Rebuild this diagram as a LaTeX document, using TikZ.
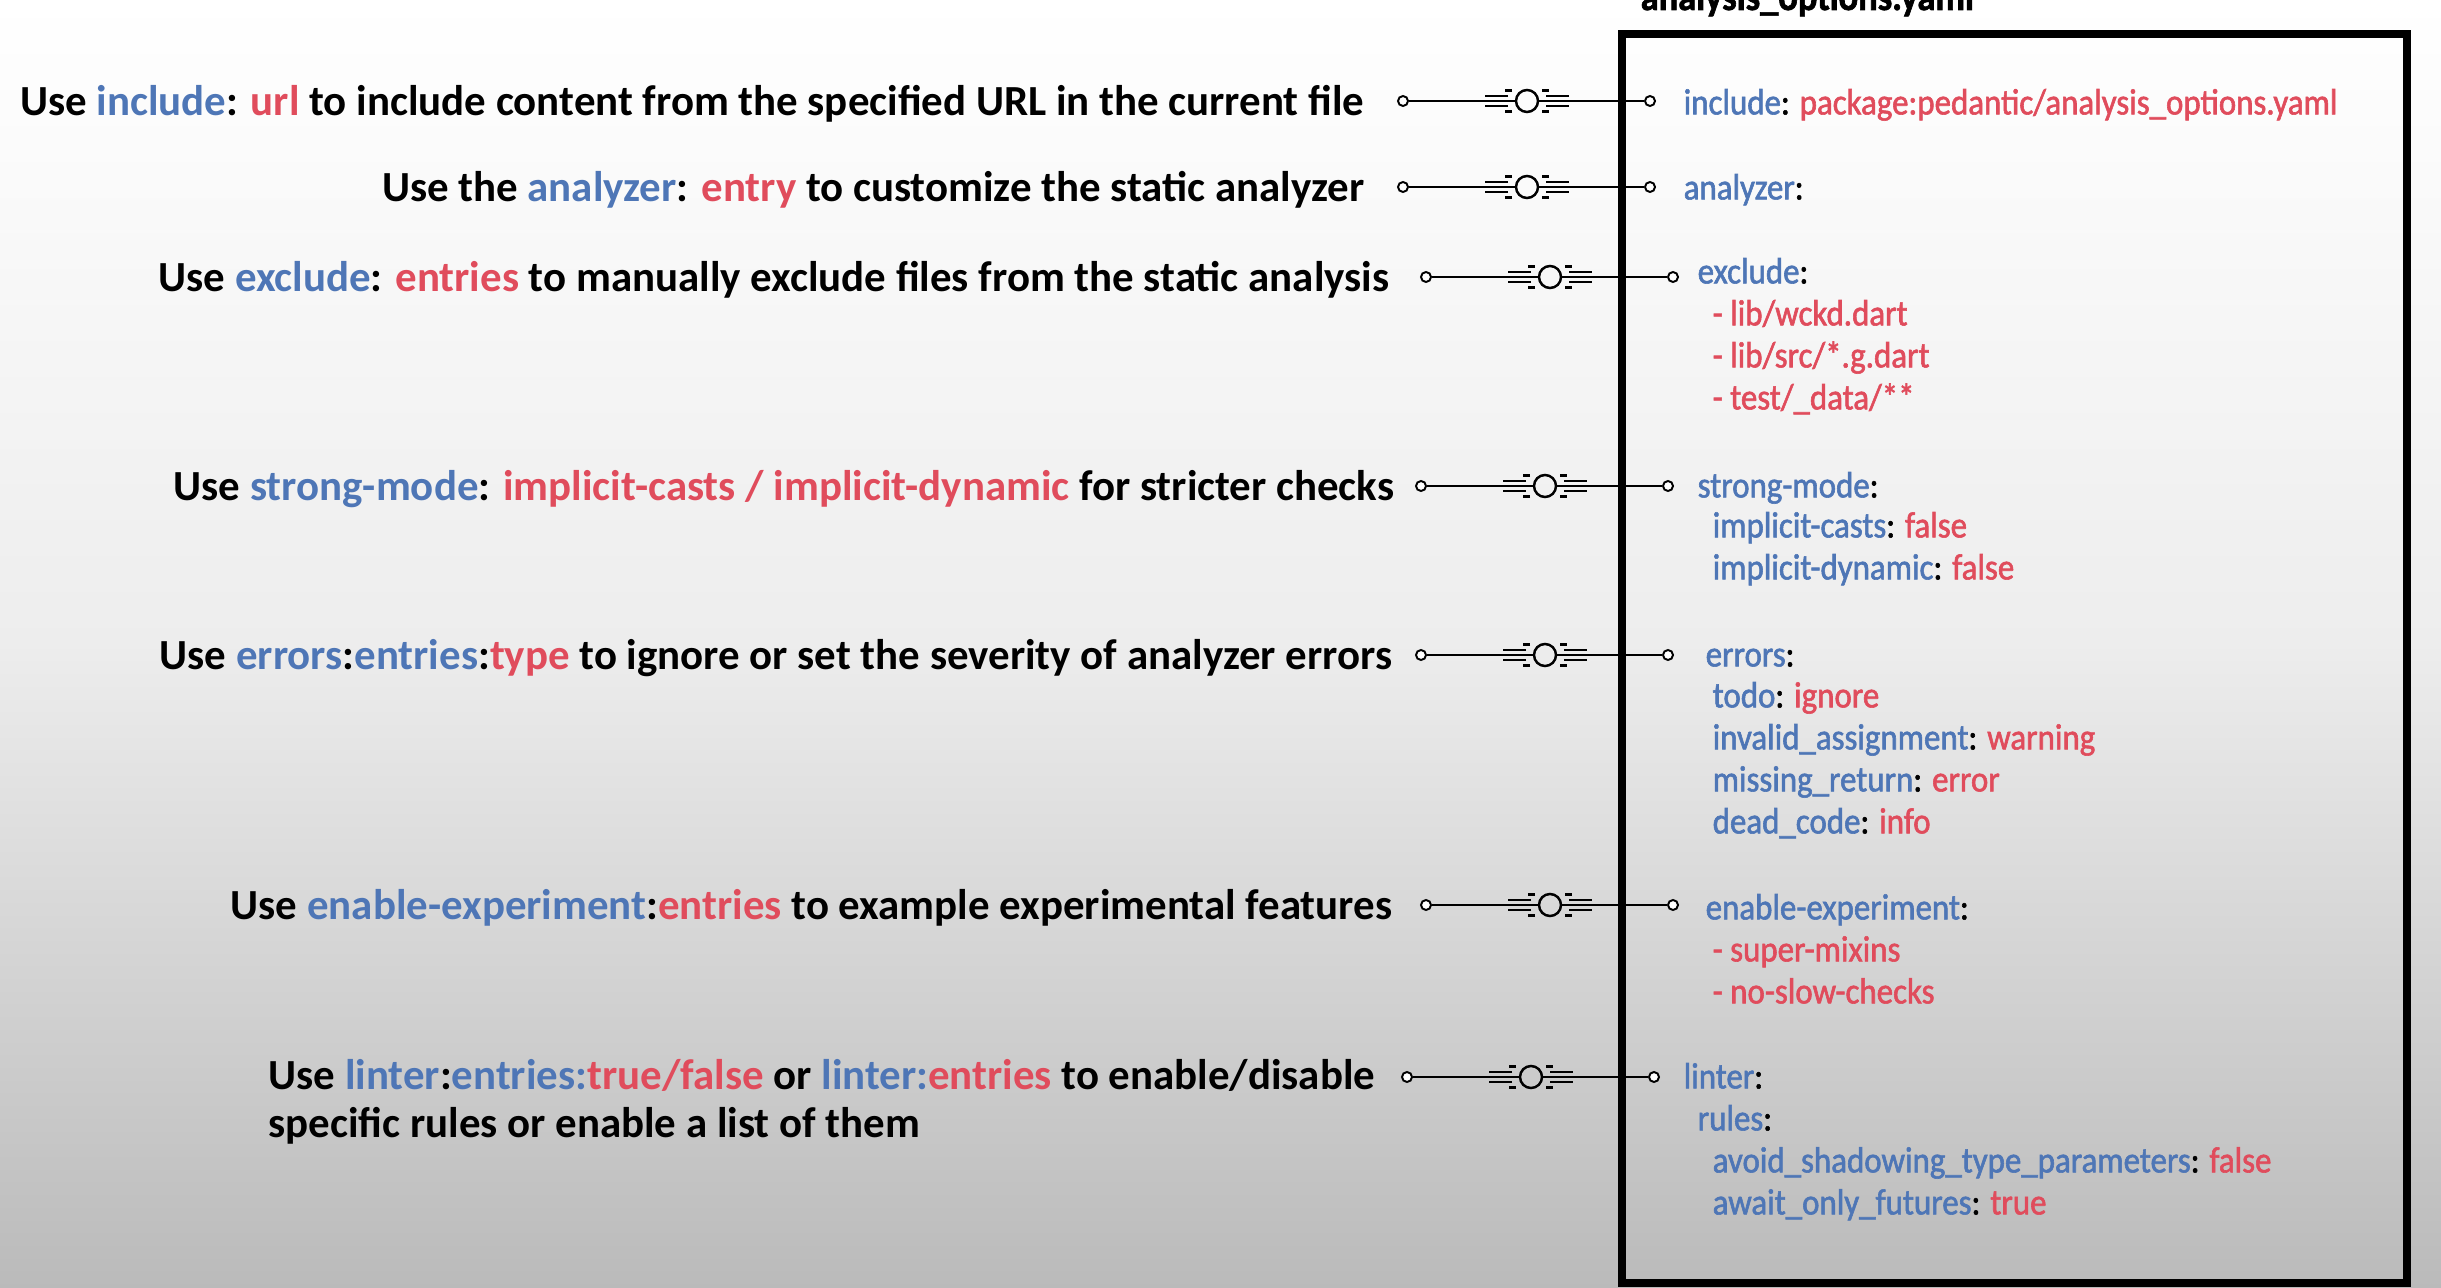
\documentclass[tikz,border=0pt]{standalone}
\usepackage{fontspec}
\setmainfont{Carlito}
\newfontfamily\yamlfont[FakeStretch=0.9,FakeBold=1.6]{Carlito}
\usetikzlibrary{positioning,calc}
\definecolor{keyblue}{RGB}{78,118,182}
\definecolor{valred}{RGB}{224,76,92}
\newcommand{\kw}[1]{\textcolor{keyblue}{#1}}
\newcommand{\vl}[1]{\textcolor{valred}{#1}}
\tikzset{note/.style={font=\fontsize{12.2}{13.7}\selectfont\bfseries,anchor=east,inner sep=0pt,text height=10pt,text depth=2pt},yaml/.style={font=\yamlfont\fontsize{10.4}{12}\selectfont,anchor=west,inner sep=0pt,text height=8.5pt,text depth=2pt},tip/.style={circle,draw,fill=white,line width=0.55pt,inner sep=0pt,minimum size=0.1cm},hub/.style={circle,draw,line width=0.7pt,inner sep=0pt,minimum size=0.22cm},wire/.style={line width=0.6pt},hubline/.style={line width=0.6pt},frame/.style={line width=2.4pt}}
\newcommand{\hubmarks}[1]{\foreach \s in {-1,1}{\foreach \d in {-5,0,5}\draw[hubline] ($(#1)+(\s*19,\d)$) -- ++(\s*23,0);\foreach \d in {-10.5,10.5}\draw[hubline] ($(#1)+(\s*15,\d)$) -- ++(\s*7,0);}}

\begin{document}
\begin{tikzpicture}[x=0.01cm,y=-0.01cm]
\useasboundingbox (0,0) rectangle (2441,1288);
\shade[top color=white,bottom color=black!7] (0,0) rectangle (2441,640);
\shade[top color=black!7,bottom color=black!27] (0,640) rectangle (2441,1288);
\node[font=\yamlfont\bfseries\fontsize{11.5}{13}\selectfont,anchor=base west,inner sep=0pt] (title) at (1640,10) {analysis\_options.yaml};
\draw[frame] (1622,34) rectangle (2407,1283);
\foreach \n/\y/\x in {1/101/1403,2/187/1403,3/277/1426,4/486/1421,5/655/1421,6/905/1426,7/1077/1407}{
\node[tip] (a\n) at (\x,\y) {};
\node[hub] (h\n) at (\x+124,\y) {};
\node[tip] (b\n) at (\x+247,\y) {};
\draw[wire] (a\n) -- (h\n) -- (b\n);
\hubmarks{h\n}
}
\node[note] (t1) at (1365,101) {Use \kw{include}: \vl{url} to include content from the specified URL in the current file};
\node[note] (t2) at (1365,187) {Use the \kw{analyzer}: \vl{entry} to customize the static analyzer};
\node[note] (t3) at (1390,277) {Use \kw{exclude}: \vl{entries} to manually exclude files from the static analysis};
\node[note] (t4) at (1395,486) {Use \kw{strong-mode}: \vl{implicit-casts / implicit-dynamic} for stricter checks};
\node[note] (t5) at (1393,655) {Use \kw{errors}:\kw{entries}:\vl{type} to ignore or set the severity of analyzer errors};
\node[note] (t6) at (1393,905) {Use \kw{enable-experiment}:\vl{entries} to example experimental features};
\node[note,anchor=west,align=left,text height=,text depth=] (t7) at (268,1102) {Use \kw{linter}:\kw{entries:}\vl{true/false} or \kw{linter:}\vl{entries} to enable/disable\\specific rules or enable a list of them};
\node[yaml] (y1) at (1683,103) {\kw{include}: \vl{package:pedantic/analysis\_options.yaml}};
\node[yaml] (y2) at (1683,188) {\kw{analyzer}:};
\node[yaml] (y3) at (1697,272) {\kw{exclude}:};
\node[yaml] (y3a) at (1712,314) {\vl{- lib/wckd.dart}};
\node[yaml] (y3b) at (1712,356) {\vl{- lib/src/*.g.dart}};
\node[yaml] (y3c) at (1712,398) {\vl{- test/\_data/**}};
\node[yaml] (y4) at (1697,486) {\kw{strong-mode}:};
\node[yaml] (y4a) at (1712,526) {\kw{implicit-casts}: \vl{false}};
\node[yaml] (y4b) at (1712,568) {\kw{implicit-dynamic}: \vl{false}};
\node[yaml] (y5) at (1705,655) {\kw{errors}:};
\node[yaml] (y5a) at (1712,696) {\kw{todo}: \vl{ignore}};
\node[yaml] (y5b) at (1712,738) {\kw{invalid\_assignment}: \vl{warning}};
\node[yaml] (y5c) at (1712,780) {\kw{missing\_return}: \vl{error}};
\node[yaml] (y5d) at (1712,822) {\kw{dead\_code}: \vl{info}};
\node[yaml] (y6) at (1705,908) {\kw{enable-experiment}:};
\node[yaml] (y6a) at (1712,950) {\vl{- super-mixins}};
\node[yaml] (y6b) at (1712,992) {\vl{- no-slow-checks}};
\node[yaml] (y7) at (1683,1077) {\kw{linter}:};
\node[yaml] (y7a) at (1697,1119) {\kw{rules}:};
\node[yaml] (y7b) at (1712,1161) {\kw{avoid\_shadowing\_type\_parameters}: \vl{false}};
\node[yaml] (y7c) at (1712,1203) {\kw{await\_only\_futures}: \vl{true}};
\end{tikzpicture}
\end{document}
